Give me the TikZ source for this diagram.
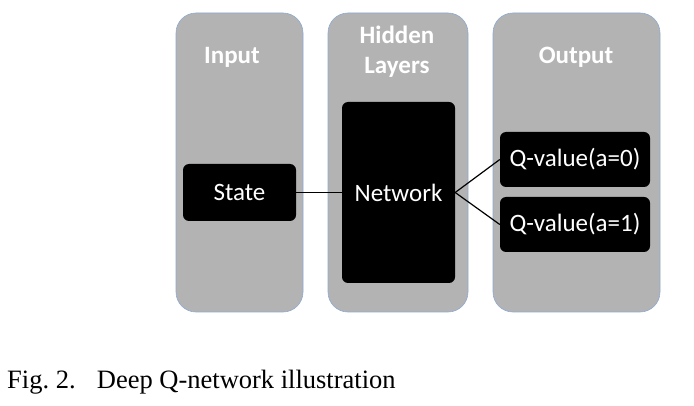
\documentclass[tikz,border=0pt]{standalone}
\usepackage{fontspec}
\setmainfont{Liberation Serif}
\newfontfamily\calfont{Carlito}
\usepackage{tikz}
\usetikzlibrary{positioning}

\definecolor{colgray}{HTML}{B3B3B3}
\definecolor{colrim}{HTML}{8FAAD0}

\tikzset{
	column/.style={shape=rectangle,draw=colrim,fill=colgray,rounded corners=20pt,line width=0.6pt},
	blackbox/.style={shape=rectangle,fill=black,rounded corners=6pt,text=white,font=\calfont\fontsize{25}{30}\selectfont,inner sep=0pt},
	title/.style={text=white,font=\calfont\bfseries\fontsize{25}{30}\selectfont,align=center}
}

\begin{document}
\begin{tikzpicture}[x=1pt,y=-1pt]
	\useasboundingbox (0,0) rectangle (694,406);
	\node[column,minimum width=127pt,minimum height=299pt] (inp) at (239.5,162.5) {};
	\node[column,minimum width=140pt,minimum height=299pt] (hid) at (398,162.5) {};
	\node[column,minimum width=167pt,minimum height=299pt] (out) at (576.5,162.5) {};
	
	\node[title] (inplabel) at (232,57) {Input};
	\node[title] (hidlabel) at (397,52) {Hidden\\Layers};
	\node[title] (outlabel) at (576,57) {Output};
	
	\node[blackbox,minimum width=113pt,minimum height=57pt] (state) at (239.5,192.5) {State};
	\node[blackbox,minimum width=113pt,minimum height=181pt] (net) at (398.5,192.5) {Network};
	\node[blackbox,minimum width=150pt,minimum height=55pt] (q0) at (575,159.5) {Q-value(a=0)};
	\node[blackbox,minimum width=150pt,minimum height=55pt] (q1) at (575,224.5) {Q-value(a=1)};
	
	\path [line width=1.2pt] (state) edge node {} (net);
	\path [line width=1.2pt] (net.east) edge node {} (q0.west);
	\path [line width=1.2pt] (net.east) edge node {} (q1.west);
	
	\node[anchor=base west,inner sep=0pt,font=\fontsize{26.5}{31}\selectfont] (caption) at (7,388) {Fig.~2.\hspace{0.8em}Deep Q-network illustration};
\end{tikzpicture}
\end{document}
